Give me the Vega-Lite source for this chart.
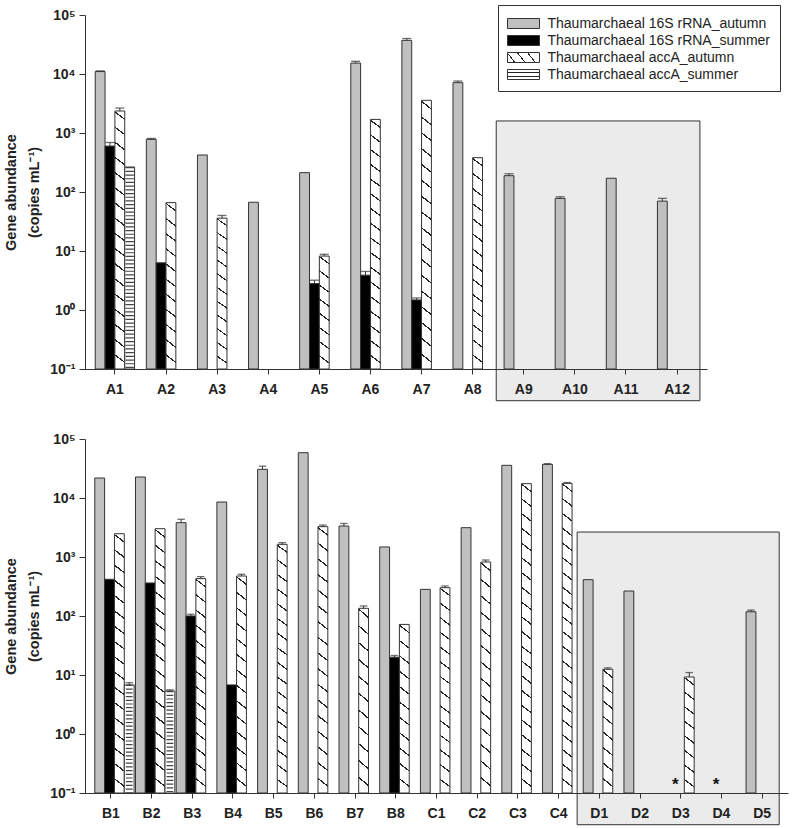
{
  "$schema": "https://vega.github.io/schema/vega-lite/v6.json",
  "padding": {"left": 3, "top": 4, "right": 2, "bottom": 2},
  "bounds": "flush",
  "spacing": 70,
  "config": {
    "view": {"stroke": null},
    "font": "Liberation Sans",
    "axis": {"labelFont": "Liberation Sans", "labelFontSize": 14, "labelFontWeight": "bold", "labelColor": "#222", "domainColor": "#333", "tickColor": "#333", "grid": false, "titleFont": "Liberation Sans", "titleFontSize": 14.5, "titleFontWeight": "bold", "titleColor": "#222"}
  },
  "params": [
    {"name": "lgD", "value": {"gradient": "linear", "x1": 0, "y1": 1, "x2": 1, "y2": 0.75, "stops": [
      {"offset": 0, "color": "#fff"},
      {"offset": 0.2, "color": "#fff"}, {"offset": 0.2, "color": "#222"}, {"offset": 0.24, "color": "#222"}, {"offset": 0.24, "color": "#fff"},
      {"offset": 0.5, "color": "#fff"}, {"offset": 0.5, "color": "#222"}, {"offset": 0.54, "color": "#222"}, {"offset": 0.54, "color": "#fff"},
      {"offset": 0.8, "color": "#fff"}, {"offset": 0.8, "color": "#222"}, {"offset": 0.84, "color": "#222"}, {"offset": 0.84, "color": "#fff"},
      {"offset": 1, "color": "#fff"}]}},
    {"name": "lgH", "value": {"gradient": "linear", "x1": 0, "y1": 0, "x2": 0, "y2": 1, "stops": [
      {"offset": 0, "color": "#fff"},
      {"offset": 0.3, "color": "#fff"}, {"offset": 0.3, "color": "#222"}, {"offset": 0.4, "color": "#222"}, {"offset": 0.4, "color": "#fff"},
      {"offset": 0.6, "color": "#fff"}, {"offset": 0.6, "color": "#222"}, {"offset": 0.7, "color": "#222"}, {"offset": 0.7, "color": "#fff"},
      {"offset": 1, "color": "#fff"}]}},
    {"name": "g1", "value": {"gradient": "linear", "x1": 1, "y1": 0, "x2": 0.935, "y2": 1, "stops": [
      {"offset": 0, "color": "#fff"},
      {"offset": 0.0625, "color": "#fff"}, {"offset": 0.0625, "color": "#222"}, {"offset": 0.0755, "color": "#222"}, {"offset": 0.0755, "color": "#fff"},
      {"offset": 0.1875, "color": "#fff"}, {"offset": 0.1875, "color": "#222"}, {"offset": 0.2005, "color": "#222"}, {"offset": 0.2005, "color": "#fff"},
      {"offset": 0.3125, "color": "#fff"}, {"offset": 0.3125, "color": "#222"}, {"offset": 0.3255, "color": "#222"}, {"offset": 0.3255, "color": "#fff"},
      {"offset": 0.4375, "color": "#fff"}, {"offset": 0.4375, "color": "#222"}, {"offset": 0.4505, "color": "#222"}, {"offset": 0.4505, "color": "#fff"},
      {"offset": 0.5625, "color": "#fff"}, {"offset": 0.5625, "color": "#222"}, {"offset": 0.5755, "color": "#222"}, {"offset": 0.5755, "color": "#fff"},
      {"offset": 0.6875, "color": "#fff"}, {"offset": 0.6875, "color": "#222"}, {"offset": 0.7005, "color": "#222"}, {"offset": 0.7005, "color": "#fff"},
      {"offset": 0.8125, "color": "#fff"}, {"offset": 0.8125, "color": "#222"}, {"offset": 0.8255, "color": "#222"}, {"offset": 0.8255, "color": "#fff"},
      {"offset": 0.9375, "color": "#fff"}, {"offset": 0.9375, "color": "#222"}, {"offset": 0.9505, "color": "#222"}, {"offset": 0.9505, "color": "#fff"},
      {"offset": 1, "color": "#fff"}]}},
    {"name": "g2", "value": {"gradient": "linear", "x1": 1, "y1": 0, "x2": 0.954, "y2": 1, "stops": [
      {"offset": 0, "color": "#fff"},
      {"offset": 0.0455, "color": "#fff"}, {"offset": 0.0455, "color": "#222"}, {"offset": 0.0545, "color": "#222"}, {"offset": 0.0545, "color": "#fff"},
      {"offset": 0.1364, "color": "#fff"}, {"offset": 0.1364, "color": "#222"}, {"offset": 0.1454, "color": "#222"}, {"offset": 0.1454, "color": "#fff"},
      {"offset": 0.2273, "color": "#fff"}, {"offset": 0.2273, "color": "#222"}, {"offset": 0.2363, "color": "#222"}, {"offset": 0.2363, "color": "#fff"},
      {"offset": 0.3182, "color": "#fff"}, {"offset": 0.3182, "color": "#222"}, {"offset": 0.3272, "color": "#222"}, {"offset": 0.3272, "color": "#fff"},
      {"offset": 0.4091, "color": "#fff"}, {"offset": 0.4091, "color": "#222"}, {"offset": 0.4181, "color": "#222"}, {"offset": 0.4181, "color": "#fff"},
      {"offset": 0.5, "color": "#fff"}, {"offset": 0.5, "color": "#222"}, {"offset": 0.509, "color": "#222"}, {"offset": 0.509, "color": "#fff"},
      {"offset": 0.5909, "color": "#fff"}, {"offset": 0.5909, "color": "#222"}, {"offset": 0.5999, "color": "#222"}, {"offset": 0.5999, "color": "#fff"},
      {"offset": 0.6818, "color": "#fff"}, {"offset": 0.6818, "color": "#222"}, {"offset": 0.6908, "color": "#222"}, {"offset": 0.6908, "color": "#fff"},
      {"offset": 0.7727, "color": "#fff"}, {"offset": 0.7727, "color": "#222"}, {"offset": 0.7817, "color": "#222"}, {"offset": 0.7817, "color": "#fff"},
      {"offset": 0.8636, "color": "#fff"}, {"offset": 0.8636, "color": "#222"}, {"offset": 0.8726, "color": "#222"}, {"offset": 0.8726, "color": "#fff"},
      {"offset": 0.9545, "color": "#fff"}, {"offset": 0.9545, "color": "#222"}, {"offset": 0.9635, "color": "#222"}, {"offset": 0.9635, "color": "#fff"},
      {"offset": 1, "color": "#fff"}]}},
    {"name": "g3", "value": {"gradient": "linear", "x1": 1, "y1": 0, "x2": 0.964, "y2": 1, "stops": [
      {"offset": 0, "color": "#fff"},
      {"offset": 0.0357, "color": "#fff"}, {"offset": 0.0357, "color": "#222"}, {"offset": 0.0427, "color": "#222"}, {"offset": 0.0427, "color": "#fff"},
      {"offset": 0.1071, "color": "#fff"}, {"offset": 0.1071, "color": "#222"}, {"offset": 0.1141, "color": "#222"}, {"offset": 0.1141, "color": "#fff"},
      {"offset": 0.1786, "color": "#fff"}, {"offset": 0.1786, "color": "#222"}, {"offset": 0.1856, "color": "#222"}, {"offset": 0.1856, "color": "#fff"},
      {"offset": 0.25, "color": "#fff"}, {"offset": 0.25, "color": "#222"}, {"offset": 0.257, "color": "#222"}, {"offset": 0.257, "color": "#fff"},
      {"offset": 0.3214, "color": "#fff"}, {"offset": 0.3214, "color": "#222"}, {"offset": 0.3284, "color": "#222"}, {"offset": 0.3284, "color": "#fff"},
      {"offset": 0.3929, "color": "#fff"}, {"offset": 0.3929, "color": "#222"}, {"offset": 0.3999, "color": "#222"}, {"offset": 0.3999, "color": "#fff"},
      {"offset": 0.4643, "color": "#fff"}, {"offset": 0.4643, "color": "#222"}, {"offset": 0.4713, "color": "#222"}, {"offset": 0.4713, "color": "#fff"},
      {"offset": 0.5357, "color": "#fff"}, {"offset": 0.5357, "color": "#222"}, {"offset": 0.5427, "color": "#222"}, {"offset": 0.5427, "color": "#fff"},
      {"offset": 0.6071, "color": "#fff"}, {"offset": 0.6071, "color": "#222"}, {"offset": 0.6141, "color": "#222"}, {"offset": 0.6141, "color": "#fff"},
      {"offset": 0.6786, "color": "#fff"}, {"offset": 0.6786, "color": "#222"}, {"offset": 0.6856, "color": "#222"}, {"offset": 0.6856, "color": "#fff"},
      {"offset": 0.75, "color": "#fff"}, {"offset": 0.75, "color": "#222"}, {"offset": 0.757, "color": "#222"}, {"offset": 0.757, "color": "#fff"},
      {"offset": 0.8214, "color": "#fff"}, {"offset": 0.8214, "color": "#222"}, {"offset": 0.8284, "color": "#222"}, {"offset": 0.8284, "color": "#fff"},
      {"offset": 0.8929, "color": "#fff"}, {"offset": 0.8929, "color": "#222"}, {"offset": 0.8999, "color": "#222"}, {"offset": 0.8999, "color": "#fff"},
      {"offset": 0.9643, "color": "#fff"}, {"offset": 0.9643, "color": "#222"}, {"offset": 0.9713, "color": "#222"}, {"offset": 0.9713, "color": "#fff"},
      {"offset": 1, "color": "#fff"}]}},
    {"name": "g4", "value": {"gradient": "linear", "x1": 1, "y1": 0, "x2": 0.971, "y2": 1, "stops": [
      {"offset": 0, "color": "#fff"},
      {"offset": 0.0294, "color": "#fff"}, {"offset": 0.0294, "color": "#222"}, {"offset": 0.0354, "color": "#222"}, {"offset": 0.0354, "color": "#fff"},
      {"offset": 0.0882, "color": "#fff"}, {"offset": 0.0882, "color": "#222"}, {"offset": 0.0942, "color": "#222"}, {"offset": 0.0942, "color": "#fff"},
      {"offset": 0.1471, "color": "#fff"}, {"offset": 0.1471, "color": "#222"}, {"offset": 0.1531, "color": "#222"}, {"offset": 0.1531, "color": "#fff"},
      {"offset": 0.2059, "color": "#fff"}, {"offset": 0.2059, "color": "#222"}, {"offset": 0.2119, "color": "#222"}, {"offset": 0.2119, "color": "#fff"},
      {"offset": 0.2647, "color": "#fff"}, {"offset": 0.2647, "color": "#222"}, {"offset": 0.2707, "color": "#222"}, {"offset": 0.2707, "color": "#fff"},
      {"offset": 0.3235, "color": "#fff"}, {"offset": 0.3235, "color": "#222"}, {"offset": 0.3295, "color": "#222"}, {"offset": 0.3295, "color": "#fff"},
      {"offset": 0.3824, "color": "#fff"}, {"offset": 0.3824, "color": "#222"}, {"offset": 0.3884, "color": "#222"}, {"offset": 0.3884, "color": "#fff"},
      {"offset": 0.4412, "color": "#fff"}, {"offset": 0.4412, "color": "#222"}, {"offset": 0.4472, "color": "#222"}, {"offset": 0.4472, "color": "#fff"},
      {"offset": 0.5, "color": "#fff"}, {"offset": 0.5, "color": "#222"}, {"offset": 0.506, "color": "#222"}, {"offset": 0.506, "color": "#fff"},
      {"offset": 0.5588, "color": "#fff"}, {"offset": 0.5588, "color": "#222"}, {"offset": 0.5648, "color": "#222"}, {"offset": 0.5648, "color": "#fff"},
      {"offset": 0.6176, "color": "#fff"}, {"offset": 0.6176, "color": "#222"}, {"offset": 0.6236, "color": "#222"}, {"offset": 0.6236, "color": "#fff"},
      {"offset": 0.6765, "color": "#fff"}, {"offset": 0.6765, "color": "#222"}, {"offset": 0.6825, "color": "#222"}, {"offset": 0.6825, "color": "#fff"},
      {"offset": 0.7353, "color": "#fff"}, {"offset": 0.7353, "color": "#222"}, {"offset": 0.7413, "color": "#222"}, {"offset": 0.7413, "color": "#fff"},
      {"offset": 0.7941, "color": "#fff"}, {"offset": 0.7941, "color": "#222"}, {"offset": 0.8001, "color": "#222"}, {"offset": 0.8001, "color": "#fff"},
      {"offset": 0.8529, "color": "#fff"}, {"offset": 0.8529, "color": "#222"}, {"offset": 0.8589, "color": "#222"}, {"offset": 0.8589, "color": "#fff"},
      {"offset": 0.9118, "color": "#fff"}, {"offset": 0.9118, "color": "#222"}, {"offset": 0.9178, "color": "#222"}, {"offset": 0.9178, "color": "#fff"},
      {"offset": 0.9706, "color": "#fff"}, {"offset": 0.9706, "color": "#222"}, {"offset": 0.9766, "color": "#222"}, {"offset": 0.9766, "color": "#fff"},
      {"offset": 1, "color": "#fff"}]}},
    {"name": "g5", "value": {"gradient": "linear", "x1": 1, "y1": 0, "x2": 0.975, "y2": 1, "stops": [
      {"offset": 0, "color": "#fff"},
      {"offset": 0.0238, "color": "#fff"}, {"offset": 0.0238, "color": "#222"}, {"offset": 0.0288, "color": "#222"}, {"offset": 0.0288, "color": "#fff"},
      {"offset": 0.0714, "color": "#fff"}, {"offset": 0.0714, "color": "#222"}, {"offset": 0.0764, "color": "#222"}, {"offset": 0.0764, "color": "#fff"},
      {"offset": 0.119, "color": "#fff"}, {"offset": 0.119, "color": "#222"}, {"offset": 0.124, "color": "#222"}, {"offset": 0.124, "color": "#fff"},
      {"offset": 0.1667, "color": "#fff"}, {"offset": 0.1667, "color": "#222"}, {"offset": 0.1717, "color": "#222"}, {"offset": 0.1717, "color": "#fff"},
      {"offset": 0.2143, "color": "#fff"}, {"offset": 0.2143, "color": "#222"}, {"offset": 0.2193, "color": "#222"}, {"offset": 0.2193, "color": "#fff"},
      {"offset": 0.2619, "color": "#fff"}, {"offset": 0.2619, "color": "#222"}, {"offset": 0.2669, "color": "#222"}, {"offset": 0.2669, "color": "#fff"},
      {"offset": 0.3095, "color": "#fff"}, {"offset": 0.3095, "color": "#222"}, {"offset": 0.3145, "color": "#222"}, {"offset": 0.3145, "color": "#fff"},
      {"offset": 0.3571, "color": "#fff"}, {"offset": 0.3571, "color": "#222"}, {"offset": 0.3621, "color": "#222"}, {"offset": 0.3621, "color": "#fff"},
      {"offset": 0.4048, "color": "#fff"}, {"offset": 0.4048, "color": "#222"}, {"offset": 0.4098, "color": "#222"}, {"offset": 0.4098, "color": "#fff"},
      {"offset": 0.4524, "color": "#fff"}, {"offset": 0.4524, "color": "#222"}, {"offset": 0.4574, "color": "#222"}, {"offset": 0.4574, "color": "#fff"},
      {"offset": 0.5, "color": "#fff"}, {"offset": 0.5, "color": "#222"}, {"offset": 0.505, "color": "#222"}, {"offset": 0.505, "color": "#fff"},
      {"offset": 0.5476, "color": "#fff"}, {"offset": 0.5476, "color": "#222"}, {"offset": 0.5526, "color": "#222"}, {"offset": 0.5526, "color": "#fff"},
      {"offset": 0.5952, "color": "#fff"}, {"offset": 0.5952, "color": "#222"}, {"offset": 0.6002, "color": "#222"}, {"offset": 0.6002, "color": "#fff"},
      {"offset": 0.6429, "color": "#fff"}, {"offset": 0.6429, "color": "#222"}, {"offset": 0.6479, "color": "#222"}, {"offset": 0.6479, "color": "#fff"},
      {"offset": 0.6905, "color": "#fff"}, {"offset": 0.6905, "color": "#222"}, {"offset": 0.6955, "color": "#222"}, {"offset": 0.6955, "color": "#fff"},
      {"offset": 0.7381, "color": "#fff"}, {"offset": 0.7381, "color": "#222"}, {"offset": 0.7431, "color": "#222"}, {"offset": 0.7431, "color": "#fff"},
      {"offset": 0.7857, "color": "#fff"}, {"offset": 0.7857, "color": "#222"}, {"offset": 0.7907, "color": "#222"}, {"offset": 0.7907, "color": "#fff"},
      {"offset": 0.8333, "color": "#fff"}, {"offset": 0.8333, "color": "#222"}, {"offset": 0.8383, "color": "#222"}, {"offset": 0.8383, "color": "#fff"},
      {"offset": 0.881, "color": "#fff"}, {"offset": 0.881, "color": "#222"}, {"offset": 0.886, "color": "#222"}, {"offset": 0.886, "color": "#fff"},
      {"offset": 0.9286, "color": "#fff"}, {"offset": 0.9286, "color": "#222"}, {"offset": 0.9336, "color": "#222"}, {"offset": 0.9336, "color": "#fff"},
      {"offset": 0.9762, "color": "#fff"}, {"offset": 0.9762, "color": "#222"}, {"offset": 0.9812, "color": "#222"}, {"offset": 0.9812, "color": "#fff"},
      {"offset": 1, "color": "#fff"}]}}
  ],
  "datasets": {
    "top": [
      {"site": "A1", "series": "Thaumarchaeal 16S rRNA_autumn", "value": 11000, "upper": 11300},
      {"site": "A1", "series": "Thaumarchaeal 16S rRNA_summer", "value": 600, "upper": 690},
      {"site": "A1", "series": "Thaumarchaeal accA_autumn", "value": 2360, "upper": 2650},
      {"site": "A1", "series": "Thaumarchaeal accA_summer", "value": 265},
      {"site": "A2", "series": "Thaumarchaeal 16S rRNA_autumn", "value": 780, "upper": 810},
      {"site": "A2", "series": "Thaumarchaeal 16S rRNA_summer", "value": 6.3},
      {"site": "A2", "series": "Thaumarchaeal accA_autumn", "value": 66},
      {"site": "A3", "series": "Thaumarchaeal 16S rRNA_autumn", "value": 424},
      {"site": "A3", "series": "Thaumarchaeal accA_autumn", "value": 36, "upper": 40},
      {"site": "A4", "series": "Thaumarchaeal 16S rRNA_autumn", "value": 67},
      {"site": "A5", "series": "Thaumarchaeal 16S rRNA_autumn", "value": 213},
      {"site": "A5", "series": "Thaumarchaeal 16S rRNA_summer", "value": 2.8, "upper": 3.2},
      {"site": "A5", "series": "Thaumarchaeal accA_autumn", "value": 8.2, "upper": 8.8},
      {"site": "A6", "series": "Thaumarchaeal 16S rRNA_autumn", "value": 15300, "upper": 16400},
      {"site": "A6", "series": "Thaumarchaeal 16S rRNA_summer", "value": 3.9, "upper": 4.5},
      {"site": "A6", "series": "Thaumarchaeal accA_autumn", "value": 1700},
      {"site": "A7", "series": "Thaumarchaeal 16S rRNA_autumn", "value": 37200, "upper": 40000},
      {"site": "A7", "series": "Thaumarchaeal 16S rRNA_summer", "value": 1.48, "upper": 1.6},
      {"site": "A7", "series": "Thaumarchaeal accA_autumn", "value": 3580},
      {"site": "A8", "series": "Thaumarchaeal 16S rRNA_autumn", "value": 7130, "upper": 7600},
      {"site": "A8", "series": "Thaumarchaeal accA_autumn", "value": 382},
      {"site": "A9", "series": "Thaumarchaeal 16S rRNA_autumn", "value": 189, "upper": 204},
      {"site": "A10", "series": "Thaumarchaeal 16S rRNA_autumn", "value": 78, "upper": 83},
      {"site": "A11", "series": "Thaumarchaeal 16S rRNA_autumn", "value": 171},
      {"site": "A12", "series": "Thaumarchaeal 16S rRNA_autumn", "value": 70, "upper": 78}
    ],
    "bottom": [
      {"site": "B1", "series": "Thaumarchaeal 16S rRNA_autumn", "value": 21800},
      {"site": "B1", "series": "Thaumarchaeal 16S rRNA_summer", "value": 419},
      {"site": "B1", "series": "Thaumarchaeal accA_autumn", "value": 2480},
      {"site": "B1", "series": "Thaumarchaeal accA_summer", "value": 6.8, "upper": 7.4},
      {"site": "B2", "series": "Thaumarchaeal 16S rRNA_autumn", "value": 22700},
      {"site": "B2", "series": "Thaumarchaeal 16S rRNA_summer", "value": 363},
      {"site": "B2", "series": "Thaumarchaeal accA_autumn", "value": 3020},
      {"site": "B2", "series": "Thaumarchaeal accA_summer", "value": 5.36, "upper": 5.6},
      {"site": "B3", "series": "Thaumarchaeal 16S rRNA_autumn", "value": 3820, "upper": 4360},
      {"site": "B3", "series": "Thaumarchaeal 16S rRNA_summer", "value": 100, "upper": 107},
      {"site": "B3", "series": "Thaumarchaeal accA_autumn", "value": 430, "upper": 464},
      {"site": "B4", "series": "Thaumarchaeal 16S rRNA_autumn", "value": 8550},
      {"site": "B4", "series": "Thaumarchaeal 16S rRNA_summer", "value": 6.8},
      {"site": "B4", "series": "Thaumarchaeal accA_autumn", "value": 476, "upper": 510},
      {"site": "B5", "series": "Thaumarchaeal 16S rRNA_autumn", "value": 30600, "upper": 34600},
      {"site": "B5", "series": "Thaumarchaeal accA_autumn", "value": 1640, "upper": 1750},
      {"site": "B6", "series": "Thaumarchaeal 16S rRNA_autumn", "value": 58600},
      {"site": "B6", "series": "Thaumarchaeal accA_autumn", "value": 3270, "upper": 3480},
      {"site": "B7", "series": "Thaumarchaeal 16S rRNA_autumn", "value": 3350, "upper": 3700},
      {"site": "B7", "series": "Thaumarchaeal accA_autumn", "value": 135, "upper": 148},
      {"site": "B8", "series": "Thaumarchaeal 16S rRNA_autumn", "value": 1480},
      {"site": "B8", "series": "Thaumarchaeal 16S rRNA_summer", "value": 20, "upper": 21.4},
      {"site": "B8", "series": "Thaumarchaeal accA_autumn", "value": 72},
      {"site": "C1", "series": "Thaumarchaeal 16S rRNA_autumn", "value": 283},
      {"site": "C1", "series": "Thaumarchaeal accA_autumn", "value": 302, "upper": 323},
      {"site": "C2", "series": "Thaumarchaeal 16S rRNA_autumn", "value": 3140},
      {"site": "C2", "series": "Thaumarchaeal accA_autumn", "value": 822, "upper": 890},
      {"site": "C3", "series": "Thaumarchaeal 16S rRNA_autumn", "value": 35800},
      {"site": "C3", "series": "Thaumarchaeal accA_autumn", "value": 17500},
      {"site": "C4", "series": "Thaumarchaeal 16S rRNA_autumn", "value": 37200, "upper": 38200},
      {"site": "C4", "series": "Thaumarchaeal accA_autumn", "value": 17700, "upper": 18300},
      {"site": "D1", "series": "Thaumarchaeal 16S rRNA_autumn", "value": 413},
      {"site": "D1", "series": "Thaumarchaeal accA_autumn", "value": 12.5, "upper": 13.2},
      {"site": "D2", "series": "Thaumarchaeal 16S rRNA_autumn", "value": 265},
      {"site": "D3", "series": "Thaumarchaeal accA_autumn", "value": 9.25, "upper": 11},
      {"site": "D5", "series": "Thaumarchaeal 16S rRNA_autumn", "value": 118, "upper": 126}
    ]
  },
  "resolve": {"legend": {"fill": "independent"}},
  "vconcat": [
    {
      "width": 622,
      "height": 354,
      "layer": [
        {
          "data": {"values": [{"site": "A9", "site2": "A12", "yhi": 1600, "ylo": 0.029}]},
          "mark": {"type": "rect", "fill": "#ebebeb", "stroke": "#333", "strokeWidth": 1},
          "encoding": {
            "x": {"field": "site", "type": "nominal", "bandPosition": -0.2, "scale": {"domain": ["A1","A2","A3","A4","A5","A6","A7","A8","A9","A10","A11","A12"], "paddingInner": 0.23, "paddingOuter": 0.2}, "axis": {"title": null, "labelAngle": 0, "tickSize": 5, "labelPadding": 8, "zindex": 2}},
            "x2": {"field": "site2", "bandPosition": 1.08},
            "y": {"field": "yhi", "type": "quantitative", "scale": {"type": "log", "domain": [0.1, 100000], "nice": false},
                  "axis": {"values": [0.1, 1, 10, 100, 1000, 10000, 100000], "labelExpr": "'10' + ['⁻¹','⁰','¹','²','³','⁴','⁵'][round(log(datum.value)/LN10)+1]", "title": ["Gene abundance", "(copies mL⁻¹)"], "titleLineHeight": 23, "titlePadding": 8, "tickSize": 6, "labelPadding": 4, "zindex": 2}},
            "y2": {"field": "ylo"}
          }
        },
        {
          "data": {"name": "top"},
          "mark": {"type": "bar", "stroke": "#333", "strokeWidth": 1},
          "encoding": {
            "x": {"field": "site", "type": "nominal"},
            "xOffset": {"field": "series", "type": "nominal", "scale": {"domain": ["Thaumarchaeal 16S rRNA_autumn", "Thaumarchaeal 16S rRNA_summer", "Thaumarchaeal accA_autumn", "Thaumarchaeal accA_summer"], "paddingInner": 0, "paddingOuter": 0}},
            "y": {"field": "value", "type": "quantitative"},
            "y2": {"datum": 0.1},
            "fill": {
              "condition": [
                {"test": "datum.series === 'Thaumarchaeal accA_summer'", "value": "white"},
                {"test": "datum.series === 'Thaumarchaeal accA_autumn' && datum.value < 20", "value": {"expr": "g1"}},
                {"test": "datum.series === 'Thaumarchaeal accA_autumn' && datum.value < 200", "value": {"expr": "g2"}},
                {"test": "datum.series === 'Thaumarchaeal accA_autumn' && datum.value < 1000", "value": {"expr": "g3"}},
                {"test": "datum.series === 'Thaumarchaeal accA_autumn' && datum.value < 10000", "value": {"expr": "g4"}},
                {"test": "datum.series === 'Thaumarchaeal accA_autumn'", "value": {"expr": "g5"}}
              ],
              "field": "series", "type": "nominal",
              "scale": {"domain": ["Thaumarchaeal 16S rRNA_autumn", "Thaumarchaeal 16S rRNA_summer", "Thaumarchaeal accA_autumn", "Thaumarchaeal accA_summer"], "range": ["#c0c0c0", "#000000", {"expr": "lgD"}, {"expr": "lgH"}]},
              "legend": {"orient": "none", "legendX": 413, "legendY": -10, "title": null, "symbolType": "M-1,-0.556H2.556V0.556H-1Z", "symbolSize": 324, "symbolStrokeColor": "#333", "symbolStrokeWidth": 1, "symbolOpacity": 1, "labelFont": "Liberation Sans", "labelFontSize": 14, "labelColor": "#222", "labelLimit": 400, "labelOffset": 21.5, "strokeColor": "#333", "fillColor": "white", "padding": 9, "rowPadding": -0.4}
            }
          }
        },
        {
          "data": {"name": "top"},
          "transform": [{"filter": "datum.series === 'Thaumarchaeal accA_summer'"}],
          "mark": {"type": "rule", "strokeWidth": 8.5, "strokeDash": [1.2, 2.5], "color": "#444"},
          "encoding": {
            "x": {"field": "site", "type": "nominal"},
            "xOffset": {"field": "series", "type": "nominal"},
            "y": {"field": "value", "type": "quantitative"},
            "y2": {"datum": 0.1}
          }
        },
        {
          "data": {"name": "top"},
          "transform": [{"filter": "isValid(datum.upper)"}],
          "mark": {"type": "rule", "strokeWidth": 1, "color": "#333"},
          "encoding": {
            "x": {"field": "site", "type": "nominal"},
            "xOffset": {"field": "series", "type": "nominal"},
            "y": {"field": "value", "type": "quantitative"},
            "y2": {"field": "upper"}
          }
        },
        {
          "data": {"name": "top"},
          "transform": [{"filter": "isValid(datum.upper)"}],
          "mark": {"type": "tick", "orient": "horizontal", "size": 9, "thickness": 1.3, "color": "#333"},
          "encoding": {
            "x": {"field": "site", "type": "nominal"},
            "xOffset": {"field": "series", "type": "nominal"},
            "y": {"field": "upper", "type": "quantitative"}
          }
        }
      ]
    },
    {
      "width": 703,
      "height": 354,
      "layer": [
        {
          "data": {"values": [{"site": "D1", "site2": "D5", "yhi": 2650, "ylo": 0.029}]},
          "mark": {"type": "rect", "fill": "#ebebeb", "stroke": "#333", "strokeWidth": 1},
          "encoding": {
            "x": {"field": "site", "type": "nominal", "bandPosition": -0.19, "scale": {"domain": ["B1","B2","B3","B4","B5","B6","B7","B8","C1","C2","C3","C4","D1","D2","D3","D4","D5"], "paddingInner": 0.21, "paddingOuter": 0.24}, "axis": {"title": null, "labelAngle": 0, "tickSize": 5, "labelPadding": 8, "zindex": 2}},
            "x2": {"field": "site2", "bandPosition": 1.03},
            "y": {"field": "yhi", "type": "quantitative", "scale": {"type": "log", "domain": [0.1, 100000], "nice": false},
                  "axis": {"values": [0.1, 1, 10, 100, 1000, 10000, 100000], "labelExpr": "'10' + ['⁻¹','⁰','¹','²','³','⁴','⁵'][round(log(datum.value)/LN10)+1]", "title": ["Gene abundance", "(copies mL⁻¹)"], "titleLineHeight": 23, "titlePadding": 8, "tickSize": 6, "labelPadding": 4, "zindex": 2}},
            "y2": {"field": "ylo"}
          }
        },
        {
          "data": {"name": "bottom"},
          "mark": {"type": "bar", "stroke": "#333", "strokeWidth": 1},
          "encoding": {
            "x": {"field": "site", "type": "nominal"},
            "xOffset": {"field": "series", "type": "nominal", "scale": {"domain": ["Thaumarchaeal 16S rRNA_autumn", "Thaumarchaeal 16S rRNA_summer", "Thaumarchaeal accA_autumn", "Thaumarchaeal accA_summer"], "paddingInner": 0, "paddingOuter": 0}},
            "y": {"field": "value", "type": "quantitative"},
            "y2": {"datum": 0.1},
            "fill": {
              "condition": [
                {"test": "datum.series === 'Thaumarchaeal accA_summer'", "value": "white"},
                {"test": "datum.series === 'Thaumarchaeal accA_autumn' && datum.value < 20", "value": {"expr": "g1"}},
                {"test": "datum.series === 'Thaumarchaeal accA_autumn' && datum.value < 200", "value": {"expr": "g2"}},
                {"test": "datum.series === 'Thaumarchaeal accA_autumn' && datum.value < 1000", "value": {"expr": "g3"}},
                {"test": "datum.series === 'Thaumarchaeal accA_autumn' && datum.value < 10000", "value": {"expr": "g4"}},
                {"test": "datum.series === 'Thaumarchaeal accA_autumn'", "value": {"expr": "g5"}}
              ],
              "field": "series", "type": "nominal",
              "scale": {"domain": ["Thaumarchaeal 16S rRNA_autumn", "Thaumarchaeal 16S rRNA_summer", "Thaumarchaeal accA_autumn", "Thaumarchaeal accA_summer"], "range": ["#c0c0c0", "#000000", {"expr": "lgD"}, {"expr": "lgH"}]},
              "legend": null
            }
          }
        },
        {
          "data": {"name": "bottom"},
          "transform": [{"filter": "datum.series === 'Thaumarchaeal accA_summer'"}],
          "mark": {"type": "rule", "strokeWidth": 6.8, "strokeDash": [1.2, 2.5], "color": "#444"},
          "encoding": {
            "x": {"field": "site", "type": "nominal"},
            "xOffset": {"field": "series", "type": "nominal"},
            "y": {"field": "value", "type": "quantitative"},
            "y2": {"datum": 0.1}
          }
        },
        {
          "data": {"name": "bottom"},
          "transform": [{"filter": "isValid(datum.upper)"}],
          "mark": {"type": "rule", "strokeWidth": 1, "color": "#333"},
          "encoding": {
            "x": {"field": "site", "type": "nominal"},
            "xOffset": {"field": "series", "type": "nominal"},
            "y": {"field": "value", "type": "quantitative"},
            "y2": {"field": "upper"}
          }
        },
        {
          "data": {"name": "bottom"},
          "transform": [{"filter": "isValid(datum.upper)"}],
          "mark": {"type": "tick", "orient": "horizontal", "size": 7.5, "thickness": 1.3, "color": "#333"},
          "encoding": {
            "x": {"field": "site", "type": "nominal"},
            "xOffset": {"field": "series", "type": "nominal"},
            "y": {"field": "upper", "type": "quantitative"}
          }
        },
        {
          "data": {"values": [
            {"site": "D3", "series": "Thaumarchaeal 16S rRNA_summer", "value": 0.1, "label": "*"},
            {"site": "D4", "series": "Thaumarchaeal 16S rRNA_summer", "value": 0.1, "label": "*"}
          ]},
          "mark": {"type": "text", "fontSize": 17, "fontWeight": "bold", "color": "#111", "baseline": "alphabetic", "dx": -4, "dy": -3, "font": "Liberation Sans"},
          "encoding": {
            "x": {"field": "site", "type": "nominal"},
            "xOffset": {"field": "series", "type": "nominal"},
            "y": {"field": "value", "type": "quantitative"},
            "text": {"field": "label"}
          }
        }
      ]
    }
  ]
}
